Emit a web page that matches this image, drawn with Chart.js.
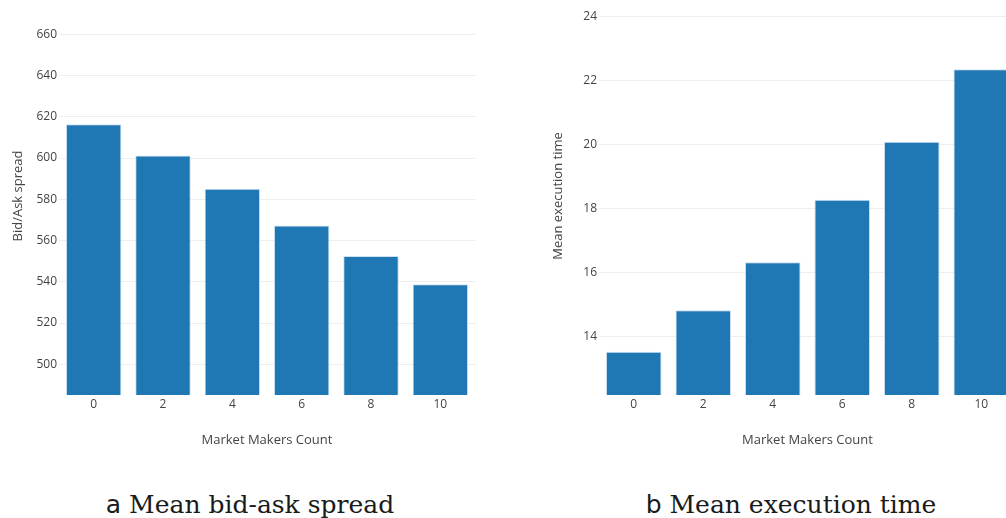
<!DOCTYPE html>
<html>
<head>
<meta charset="utf-8">
<script src="https://cdn.jsdelivr.net/npm/chart.js@4"></script>
<style>
html,body{margin:0;padding:0;width:1006px;height:518px;overflow:hidden;background:#fff;}
.box{position:absolute;}
.cap{position:absolute;top:490px;font-family:"DejaVu Serif","Liberation Serif",serif;font-size:25px;color:#1a1a1a;white-space:nowrap;transform:translateX(-50%);}
.cap .s{font-family:"DejaVu Sans",sans-serif;}
</style>
</head>
<body>
<div class="box" style="left:0;top:-20px;width:490px;height:480px;"><canvas id="c1"></canvas></div>
<div class="box" style="left:540px;top:-20px;width:500px;height:480px;"><canvas id="c2"></canvas></div>
<div class="cap" style="left:250px;"><span class="s">a</span> Mean bid-ask spread</div>
<div class="cap" style="left:791px;"><span class="s">b</span> Mean execution time</div>
<script>
const categories = ["0","2","4","6","8","10"];
const spreadValues = [616.4, 601.3, 585.1, 567.3, 552.5, 538.8];
const execTimeValues = [13.54, 14.83, 16.33, 18.28, 20.09, 22.35];
const spreadTicks = [500,520,540,560,580,600,620,640,660];
const execTicks = [14,16,18,20,22,24];
const xTitle = "Market Makers Count";
const spreadTitle = "Bid/Ask spread";
const execTitle = "Mean execution time";

const FONT = "'Open Sans', 'Noto Sans', sans-serif";
const BAR = "#1f77b4";

function makeChart(id, values, tickVals, yMin, yMax, yTitle, padRight){
  return new Chart(document.getElementById(id), {
    type: 'bar',
    data: { labels: categories, datasets: [{ data: values, backgroundColor: BAR, borderColor: 'rgba(205,225,242,1)', borderWidth: 1, categoryPercentage: 0.8, barPercentage: 1.0 }] },
    options: {
      responsive: true, maintainAspectRatio: false, animation: false,
      layout: { padding: { top: 17, bottom: 5, left: 0, right: padRight } },
      plugins: { legend: { display: false }, tooltip: { enabled: false } },
      scales: {
        x: {
          grid: { display: false, drawTicks: false },
          border: { display: false },
          ticks: { color: '#444', font: { family: FONT, size: 12 }, padding: 2 },
          title: { display: true, text: xTitle, color: '#444', font: { family: FONT, size: 13 }, padding: { top: 0, bottom: 7 } },
          afterFit: s => { s.height = 60; }
        },
        y: {
          min: yMin, max: yMax,
          grid: { color: '#eeeeee', drawTicks: false, lineWidth: 1 },
          border: { display: false },
          ticks: { color: '#444', font: { family: FONT, size: 12 }, padding: 2 },
          afterBuildTicks: s => { s.ticks = tickVals.map(v => ({ value: v })); },
          title: { display: true, text: yTitle, color: '#444', font: { family: FONT, size: 13 }, padding: { top: 10, bottom: 0 } },
          afterFit: s => { s.width = 59; }
        }
      }
    }
  });
}
makeChart('c1', spreadValues, spreadTicks, 485.1, 678.1, spreadTitle, 15);
makeChart('c2', execTimeValues, execTicks, 12.19, 24.6, execTitle, 24);
</script>
</body>
</html>
